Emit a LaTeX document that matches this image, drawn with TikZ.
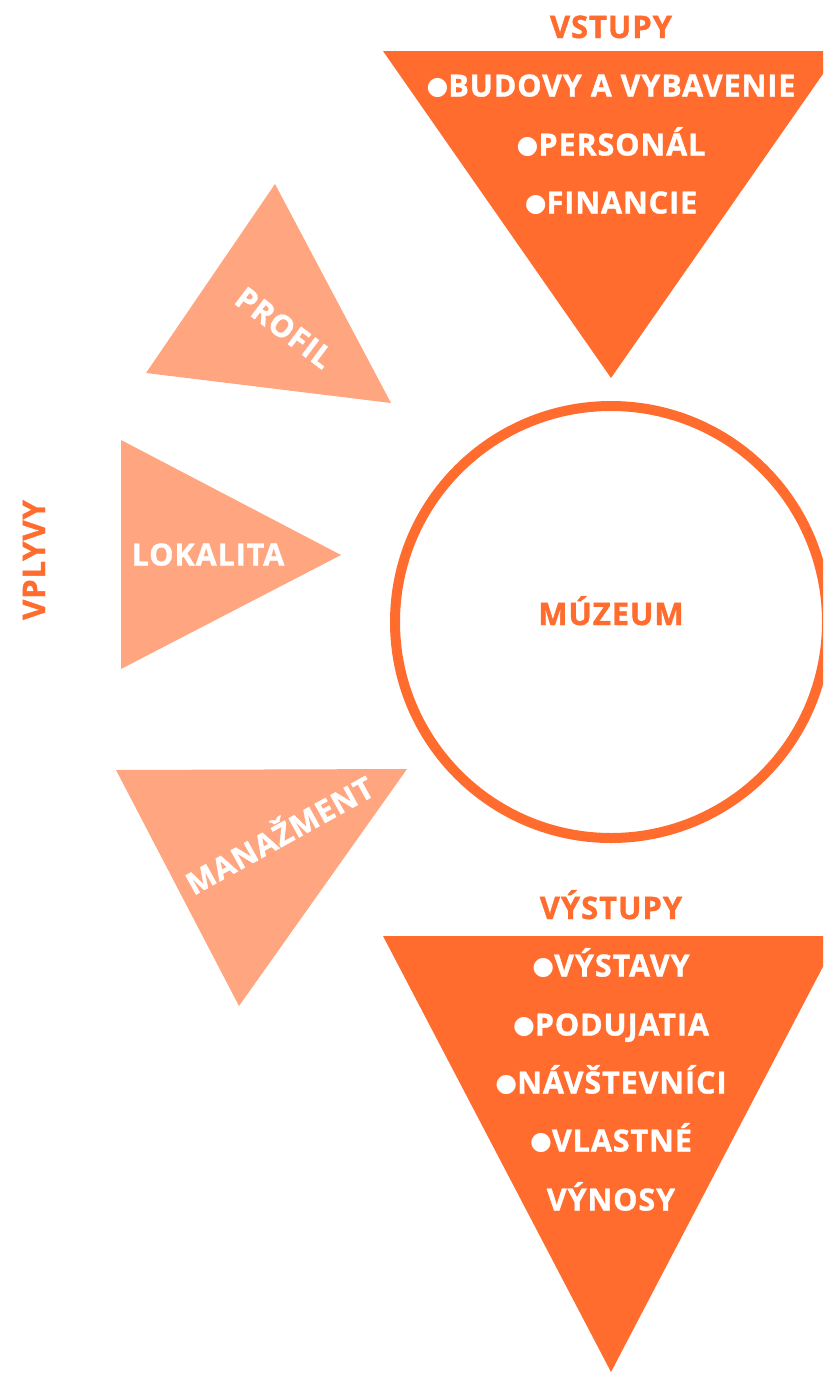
\documentclass[tikz,border=0pt]{standalone}
\usepackage{fontspec}
\setmainfont{Open Sans}[LetterSpace=3, BoldFeatures={FakeBold=1.2}]
\newfontfamily\dotfont{DejaVu Sans}
\usepackage{tikz}
\definecolor{darkorange}{RGB}{255,108,46}
\definecolor{lightorange}{RGB}{255,166,128}
\newcommand{\bul}{\raisebox{2.5pt}{\dotfont\fontsize{25}{28}\selectfont ●}}

\begin{document}
\begin{tikzpicture}[x=1pt,y=-1pt,
        title/.style={text=darkorange, font=\bfseries\fontsize{31}{34}\selectfont, text height=22pt, text depth=0pt, inner sep=0pt},
        item/.style={text=white, font=\bfseries\fontsize{30.5}{34}\selectfont, text height=21pt, text depth=0pt, inner sep=0pt},
        small/.style={text=white, font=\bfseries\fontsize{30.5}{34}\selectfont, text height=21pt, text depth=0pt, inner sep=0pt}]
        \useasboundingbox (0,0) rectangle (823,1373);
        \clip (0,0) rectangle (823,1373);
        % vstupy
        \fill[darkorange] (383,51) -- (839,51) -- (611,378) -- cycle;
        \node[title] (vstupy) at (611,27) {VSTUPY};
        \node[item] (budovy) at (611,86) {\bul BUDOVY A VYBAVENIE};
        \node[item] (personal) at (611,145) {\bul PERSONÁL};
        \node[item] (financie) at (611,203) {\bul FINANCIE};
        % vplyvy
        \fill[lightorange] (275,184) -- (146,373) -- (391,403) -- cycle;
        \fill[lightorange] (121,440) -- (121,669) -- (341,555) -- cycle;
        \fill[lightorange] (116,770) -- (407,769) -- (239,1006) -- cycle;
        \node[small, rotate=-37] (profil) at (284,328) {PROFIL};
        \node[small] (lokalita) at (208,555) {LOKALITA};
        \node[small, rotate=29] (manazment) at (280,836) {MANAŽMENT};
        \node[title, rotate=90] (vplyvy) at (34,560) {VPLYVY};
        % muzeum
        \draw[darkorange, line width=10pt] (611,622) circle (216);
        \node[title] (muzeum) at (611,614) {MÚZEUM};
        % vystupy
        \fill[darkorange] (383,936) -- (839,936) -- (611,1372) -- cycle;
        \node[title] (vystupy) at (611,908) {VÝSTUPY};
        \node[item] (vystavy) at (611,966) {\bul VÝSTAVY};
        \node[item] (podujatia) at (611,1025) {\bul PODUJATIA};
        \node[item] (navstevnici) at (611,1083) {\bul NÁVŠTEVNÍCI};
        \node[item] (vlastne) at (611,1141) {\bul VLASTNÉ};
        \node[item] (vynosy) at (611,1200) {VÝNOSY};
\end{tikzpicture}
\end{document}
